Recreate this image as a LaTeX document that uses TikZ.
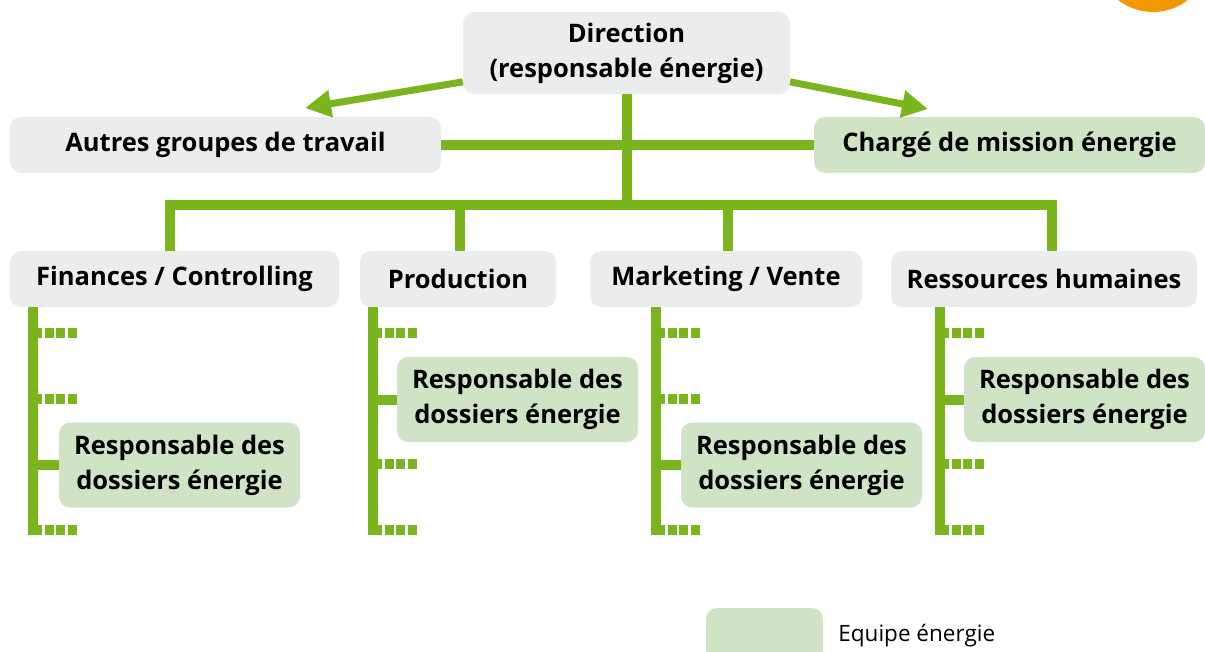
\documentclass[tikz,border=0pt]{standalone}
\usepackage{fontspec}
\setmainfont{Open Sans}
\usepackage{tikz}
\usetikzlibrary{arrows.meta,positioning}

\definecolor{linegreen}{RGB}{122,181,29}
\definecolor{boxgray}{RGB}{235,237,236}
\definecolor{boxgreen}{RGB}{208,228,197}
\definecolor{dotorange}{RGB}{243,152,0}

\begin{document}
\begin{tikzpicture}[
            x=1pt, y=-1pt,
            every node/.style={inner sep=0pt, align=center, rounded corners=11pt,
                               font=\bfseries\fontsize{25.5}{35}\selectfont},
            graybox/.style={fill=boxgray},
            greenbox/.style={fill=boxgreen},
            link/.style={draw=linegreen, line width=10pt, line join=miter},
            arrowlink/.style={draw=linegreen, line width=7pt,
                              -{Triangle[length=26pt,width=26pt]}},
            stub/.style={draw=linegreen, line width=10pt, dash pattern=on 9pt off 2.5pt}
          ]
          \useasboundingbox (0,0) rectangle (1205,652);

          % orange dot, cut by the page
          \fill[dotorange] (1153,-45) circle (57);

          % Top level
          \node[graybox, minimum width=327pt, minimum height=82pt] (dir) at (626.5,53)
               {Direction\\(responsable énergie)};
          \node[graybox, minimum width=431pt, minimum height=56pt] (autres) at (225.5,145)
               {Autres groupes de travail};
          \node[greenbox, minimum width=391pt, minimum height=56pt] (charge) at (1009.5,145)
               {Chargé de mission énergie};

          % Departments
          \node[graybox, minimum width=329pt, minimum height=56pt] (fin) at (174.5,279)
               {Finances / Controlling};
          \node[graybox, minimum width=196pt, minimum height=56pt] (prod) at (458,279)
               {Production};
          \node[graybox, minimum width=272pt, minimum height=56pt] (mkt) at (726,279)
               {Marketing / Vente};
          \node[graybox, minimum width=306pt, minimum height=56pt] (rh) at (1044,279)
               {Ressources humaines};

          % Energy officers
          \node[greenbox, minimum width=241pt, minimum height=85pt] (resp1) at (179.5,465)
               {Responsable des\\dossiers énergie};
          \node[greenbox, minimum width=241pt, minimum height=85pt] (resp2) at (517.5,399.5)
               {Responsable des\\dossiers énergie};
          \node[greenbox, minimum width=241pt, minimum height=85pt] (resp3) at (801.5,465)
               {Responsable des\\dossiers énergie};
          \node[greenbox, minimum width=241pt, minimum height=85pt] (resp4) at (1084.5,399.5)
               {Responsable des\\dossiers énergie};

          % Legend
          \node[greenbox, minimum width=117pt, minimum height=64pt] (leg) at (764.5,640) {};
          \node[right=15pt of leg.north east, anchor=west, yshift=-28pt, rounded corners=0pt,
                font=\fontsize{22.5}{24}\selectfont] (legtext) {Equipe énergie};

          % Edges
          \coordinate (tipL) at (305,108);
          \coordinate (tipR) at (928,109);
          \draw[arrowlink] (dir.190) -- (tipL);
          \draw[arrowlink] (dir.-10) -- (tipR);
          \draw[link] (autres.east) -- (charge.west);

          \coordinate (d1) at (170,205);
          \coordinate (d2) at (460,205);
          \coordinate (d3) at (728,205);
          \coordinate (d4) at (1052,205);
          \draw[link] (dir.south) -- (dir.south |- d1);
          \draw[link] (d1 |- fin.north) -- (d1) -- (d4) -- (d4 |- rh.north);
          \draw[link] (d2) -- (d2 |- prod.north);
          \draw[link] (d3) -- (d3 |- mkt.north);

          % Column lines down from each department
          \coordinate (e1) at (33,535);
          \coordinate (e2) at (373,535);
          \coordinate (e3) at (656,535);
          \coordinate (e4) at (940,535);
          \draw[link] (e1 |- fin.south) -- (e1);
          \draw[link] (e2 |- prod.south) -- (e2);
          \draw[link] (e3 |- mkt.south) -- (e3);
          \draw[link] (e4 |- rh.south) -- (e4);

          \draw[link] (e1 |- resp1.west) -- (resp1.west);
          \draw[link] (e2 |- resp2.west) -- (resp2.west);
          \draw[link] (e3 |- resp3.west) -- (resp3.west);
          \draw[link] (e4 |- resp4.west) -- (resp4.west);

          % Open places (dashed stubs)
          \foreach \col/\ys in {e1/{333,399,530}, e2/{333,464,530},
                                e3/{333,399,530}, e4/{333,464,530}} {
            \foreach \y in \ys {
              \draw[stub] (\col |- 0,\y) -- ++(45,0);
            }
          }

        \end{tikzpicture}
\end{document}
